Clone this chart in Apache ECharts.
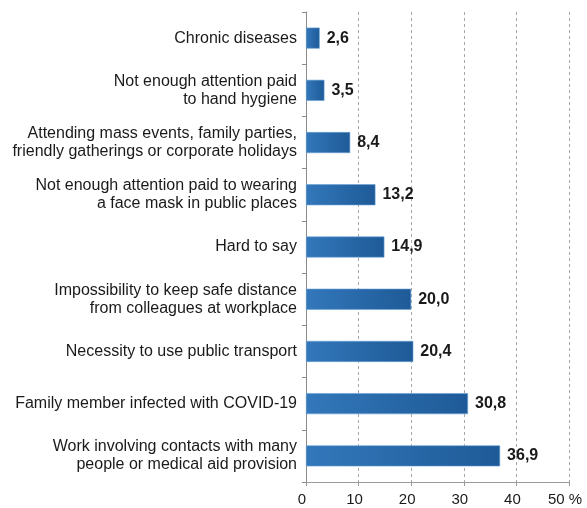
<!DOCTYPE html>
<html>
<head>
<meta charset="utf-8">
<script src="https://cdn.jsdelivr.net/npm/echarts@6/dist/echarts.min.js"></script>
<style>
  html, body { margin: 0; padding: 0; background: #fff; }
  #chart { width: 587px; height: 508px; }
</style>
</head>
<body>
<div id="chart"></div>
<script>
// categories, top to bottom
const categories = [
  'Chronic diseases',
  'Not enough attention paid\nto hand hygiene',
  'Attending mass events, family parties,\nfriendly gatherings or corporate holidays',
  'Not enough attention paid to wearing\na face mask in public places',
  'Hard to say',
  'Impossibility to keep safe distance\nfrom colleagues at workplace',
  'Necessity to use public transport',
  'Family member infected with COVID-19',
  'Work involving contacts with many\npeople or medical aid provision'
]
const values = [2.6, 3.5, 8.4, 13.2, 14.9, 20.0, 20.4, 30.8, 36.9]
const xTicks = [0, 10, 20, 30, 40, 50]

const myChart = echarts.init(document.getElementById('chart'))

const option = {
  animation: false,
  grid: {
    left: 306,
    right: 18,
    top: 12,
    bottom: 26,
    containLabel: false
  },
  xAxis: {
    type: 'value',
    min: xTicks[0],
    max: xTicks[xTicks.length - 1],
    interval: 10,
    axisLine: { show: true, lineStyle: { color: '#9a9a9a', width: 1 } },
    axisTick: { show: true, length: 4, lineStyle: { color: '#9a9a9a' } },
    axisLabel: {
      color: '#1a1a1a',
      fontSize: 15,
      fontFamily: 'Liberation Sans, Arial, sans-serif',
      margin: 10,
      padding: [0, 8, 0, 0],
      formatter: (v) => (v === 50 ? '50 %' : String(v))
    },
    splitLine: {
      show: true,
      lineStyle: { color: '#a8a8a8', type: [3, 3], width: 1 }
    }
  },
  yAxis: {
    type: 'category',
    data: categories,
    inverse: true,
    axisLine: { show: true, lineStyle: { color: '#8a8a8a', width: 1 } },
    axisTick: { show: true, length: 4, lineStyle: { color: '#8a8a8a' } },
    axisLabel: {
      color: '#1a1a1a',
      fontSize: 16,
      lineHeight: 18,
      fontFamily: 'Liberation Sans, Arial, sans-serif',
      margin: 9,
      align: 'right'
    },
    splitLine: { show: false }
  },
  series: [
    {
      type: 'bar',
      data: values,
      barWidth: 21,
      itemStyle: {
        color: new echarts.graphic.LinearGradient(0, 0, 1, 0, [
          { offset: 0, color: '#3378bb' },
          { offset: 1, color: '#1e5a97' }
        ]),
        borderColor: '#6aa3d6',
        borderWidth: 0.6
      },
      label: {
        show: true,
        position: 'right',
        distance: 7,
        color: '#1a1a1a',
        fontSize: 16,
        fontWeight: 'bold',
        fontFamily: 'Liberation Sans, Arial, sans-serif',
        formatter: (p) => p.value.toFixed(1).replace('.', ',')
      }
    }
  ]
}

myChart.setOption(option)
</script>
</body>
</html>
